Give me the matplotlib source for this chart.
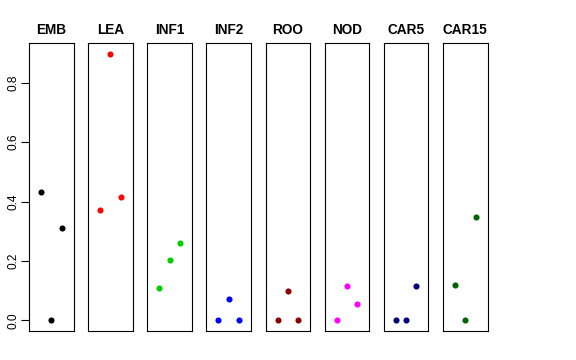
import matplotlib
matplotlib.use("Agg")
import matplotlib.pyplot as plt

# panel names and colours (R palette)
groups = ["EMB", "LEA", "INF1", "INF2", "ROO", "NOD", "CAR5", "CAR15"]
colors = ["black", "red", "#00CD00", "blue", "#8B0000", "magenta", "#000080", "#006400"]

# three values per panel, plotted at x = 1, 2, 3
x_pos = [1, 2, 3]
emb = [0.433, 0.0, 0.310]
lea = [0.372, 0.898, 0.417]
inf1 = [0.108, 0.202, 0.260]
inf2 = [0.0, 0.072, 0.0]
roo = [0.0, 0.099, 0.0]
nod = [0.0, 0.117, 0.054]
car5 = [0.0, 0.0, 0.114]
car15 = [0.119, 0.0, 0.347]
values = [emb, lea, inf1, inf2, roo, nod, car5, car15]

yticks = [0.0, 0.2, 0.4, 0.6, 0.8]

plt.rcParams["font.family"] = ["Liberation Sans", "DejaVu Sans"]

W, H = 576, 360
fig = plt.figure(figsize=(W / 100, H / 100), dpi=100)

top, bottom = 43, 331
ymax = max(max(v) for v in values)
ypad = 0.04 * ymax

for i, (name, col, vals) in enumerate(zip(groups, colors, values)):
    left = 29 + i * 59.15
    ax = fig.add_axes([left / W, (H - bottom) / H, 44.5 / W, (bottom - top) / H])
    ax.plot(x_pos, vals, "o", color=col, markersize=4.4, markeredgewidth=0)
    ax.set_xlim(-0.16, 4.16)
    ax.set_ylim(-ypad, ymax + ypad)
    ax.set_xticks([])
    for sp in ax.spines.values():
        sp.set_linewidth(0.8)
        sp.set_color("black")
    if i == 0:
        ax.set_yticks(yticks)
        ax.set_yticklabels([f"{t:.1f}" for t in yticks])
        ax.tick_params(axis="y", length=5.8, width=0.8, pad=1, labelsize=8.6,
                       labelrotation=90)
        for lab in ax.get_yticklabels():
            lab.set_verticalalignment("center")
    else:
        ax.set_yticks([])
    fig.text((left + 22.25) / W, (H - 34) / H, name, ha="center", va="baseline",
             fontsize=9.8, fontweight="bold")

fig.savefig("out.png", dpi=100)
